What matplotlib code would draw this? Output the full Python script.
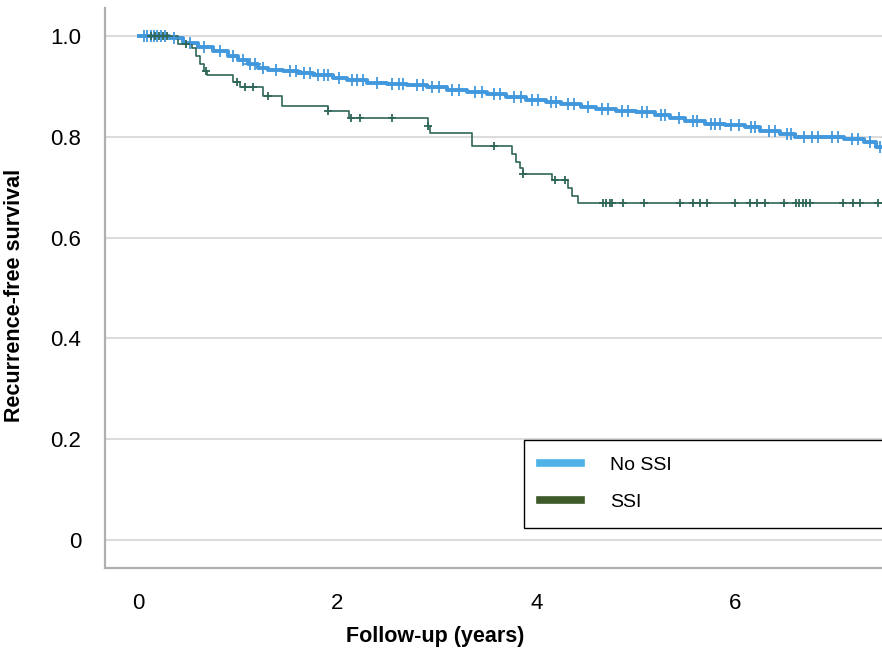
# plot.py
#   kaplan-meier curves of recurrence-free survival, no SSI vs SSI

import numpy as np
from matplotlib import pyplot as plt
from matplotlib.lines import Line2D

# no SSI: step times (years) and survival after each step
NOSSI_T = [0.0, 0.30, 0.45, 0.60, 0.75, 0.90, 1.00, 1.10, 1.20, 1.30, 1.45, 1.60,
           1.75, 1.95, 2.10, 2.30, 2.50, 2.70, 2.90, 3.10, 3.30, 3.50, 3.70, 3.90,
           4.10, 4.25, 4.45, 4.60, 4.80, 5.00, 5.20, 5.35, 5.50, 5.70, 5.90, 6.10,
           6.25, 6.45, 6.60, 6.90, 7.10, 7.30, 7.42]
NOSSI_S = [1.000, 0.995, 0.985, 0.978, 0.970, 0.960, 0.952, 0.945, 0.937, 0.933, 0.930, 0.927,
           0.922, 0.917, 0.912, 0.906, 0.905, 0.902, 0.898, 0.893, 0.889, 0.885, 0.879, 0.873,
           0.868, 0.864, 0.859, 0.855, 0.850, 0.848, 0.843, 0.837, 0.831, 0.825, 0.823, 0.819,
           0.812, 0.805, 0.800, 0.799, 0.795, 0.789, 0.780]
NOSSI_CENS = [0.05, 0.08, 0.12, 0.15, 0.18, 0.22, 0.26, 0.35, 0.52, 0.66, 0.82, 0.95,
              1.05, 1.12, 1.17, 1.25, 1.38, 1.52, 1.58, 1.66, 1.72, 1.80, 1.86, 1.90,
              2.02, 2.15, 2.20, 2.26, 2.40, 2.55, 2.62, 2.66, 2.80, 2.86, 2.95, 3.02,
              3.15, 3.22, 3.38, 3.45, 3.58, 3.64, 3.78, 3.85, 3.96, 4.02, 4.15, 4.20,
              4.32, 4.38, 4.52, 4.66, 4.72, 4.86, 4.92, 5.06, 5.12, 5.26, 5.30, 5.44,
              5.58, 5.62, 5.76, 5.80, 5.85, 5.96, 6.04, 6.16, 6.20, 6.34, 6.40, 6.52,
              6.56, 6.70, 6.78, 6.84, 6.98, 7.04, 7.18, 7.24, 7.36, 7.46]

# SSI
SSI_T = [0.0, 0.40, 0.54, 0.58, 0.62, 0.66, 0.69, 0.95, 1.02, 1.25, 1.44, 1.90,
         2.12, 2.91, 2.93, 3.35, 3.76, 3.80, 3.84, 3.87, 4.16, 4.32, 4.36, 4.42]
SSI_S = [1.000, 0.983, 0.975, 0.960, 0.945, 0.930, 0.922, 0.909, 0.899, 0.880, 0.861, 0.850,
         0.837, 0.822, 0.808, 0.782, 0.765, 0.750, 0.738, 0.726, 0.714, 0.698, 0.683, 0.668]
SSI_CENS = [0.12, 0.16, 0.20, 0.24, 0.28, 0.48, 0.68, 0.99, 1.07, 1.15, 1.30, 1.90,
            2.14, 2.23, 2.55, 2.91, 3.58, 3.87, 4.19, 4.29, 4.67, 4.70, 4.74, 4.76,
            4.87, 5.08, 5.45, 5.58, 5.65, 5.72, 6.00, 6.15, 6.22, 6.30, 6.49, 6.61,
            6.64, 6.68, 6.72, 6.76, 7.09, 7.19, 7.26, 7.44]

LABELS = ['No SSI', 'SSI']
LINE_COLORS = ['#4298dc', '#2f6658']
LEGEND_COLORS = ['#4fb3e8', '#3e5a2a']
END_T = 8.0

plt.rcParams['font.family'] = ['Liberation Sans', 'DejaVu Sans']


def step_value(times, surv, t):
    idx = np.searchsorted(times, t, side='right') - 1
    return np.asarray(surv)[idx]


def draw_km(ax, times, surv, cens, color, lw, ms):
    t = list(times) + [END_T]
    s = list(surv) + [surv[-1]]
    ax.step(t, s, where='post', color=color, lw=lw, zorder=3)
    ys = step_value(times, surv, cens)
    ax.plot(cens, ys, ls='none', marker='+', color=color, ms=ms, mew=1.3, zorder=4)


fig = plt.figure(figsize=(8.82, 6.54), dpi=100)
ax = fig.add_axes([0.119, 0.1315, 0.881, 0.8565])

draw_km(ax, NOSSI_T, NOSSI_S, NOSSI_CENS, LINE_COLORS[0], 2.8, 8)
draw_km(ax, SSI_T, SSI_S, SSI_CENS, LINE_COLORS[1], 1.2, 6)

ax.set_xlim(-0.34, 7.48)
ax.set_ylim(-0.0556, 1.0556)
ax.set_yticks([0, 0.2, 0.4, 0.6, 0.8, 1.0])
ax.set_yticklabels(['0', '0.2', '0.4', '0.6', '0.8', '1.0'], fontsize=16)
ax.set_xticks([0, 2, 4, 6])
ax.set_xticklabels(['0', '2', '4', '6'], fontsize=16)
ax.tick_params(axis='both', length=0)
ax.tick_params(axis='y', pad=17)
ax.tick_params(axis='x', pad=18)
ax.grid(axis='y', color='#dcdcdc', lw=1.5)
ax.set_axisbelow(True)

for side in ['top', 'right']:
    ax.spines[side].set_visible(False)
for side in ['left', 'bottom']:
    ax.spines[side].set_color('#b0b0b0')
    ax.spines[side].set_linewidth(1.6)

ax.set_ylabel('Recurrence-free survival', fontsize=15.5, fontweight='bold')
ax.yaxis.set_label_coords(-0.103, 0.486)
ax.set_xlabel('Follow-up (years)', fontsize=15.5, fontweight='bold')
ax.xaxis.set_label_coords(0.425, -0.103)

handles = [Line2D([], [], color=c, lw=5.5) for c in LEGEND_COLORS]
leg = ax.legend(handles, LABELS, loc='upper left', bbox_to_anchor=(0.539, 0.0, 0.6, 0.2286),
                mode='expand', borderaxespad=0, fancybox=False, framealpha=1,
                edgecolor='black', prop={'size': 14},
                handlelength=2.1, handletextpad=1.5, borderpad=0.85, labelspacing=1.0)
leg.get_frame().set_linewidth(1.0)

plt.savefig('out.png', dpi=100)
